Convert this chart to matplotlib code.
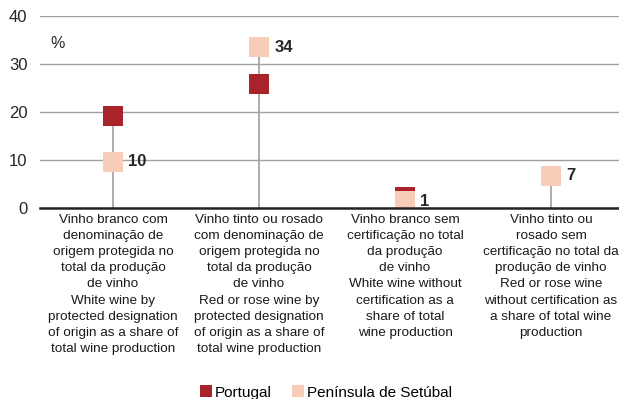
import matplotlib.pyplot as plt
import numpy as np

plt.rcParams['font.family'] = ['Liberation Sans', 'DejaVu Sans']

categories = [
    "Vinho branco com\ndenominação de\norigem protegida no\ntotal da produção\nde vinho\nWhite wine by\nprotected designation\nof origin as a share of\ntotal wine production",
    "Vinho tinto ou rosado\ncom denominação de\norigem protegida no\ntotal da produção\nde vinho\nRed or rose wine by\nprotected designation\nof origin as a share of\ntotal wine production",
    "Vinho branco sem\ncertificação no total\nda produção\nde vinho\nWhite wine without\ncertification as a\nshare of total\nwine production",
    "Vinho tinto ou\nrosado sem\ncertificação no total da\nprodução de vinho\nRed or rose wine\nwithout certification as\na share of total wine\nproduction",
]
portugal = [19.2, 25.8, 2.2, 6.7]
setubal = [9.6, 33.5, 1.4, 6.7]

red = '#A8242A'
pale = '#F7CDB8'

fig = plt.figure(figsize=(6.19, 3.99), dpi=100)
ax = fig.add_axes([40/619, 191/399, 579/619, 192/399])

x = np.arange(len(categories))
hi = np.maximum(portugal, setubal)
ax.vlines(x, 0, hi, color='#A6A6A6', lw=1.3, zorder=2)
ax.plot(x, portugal, 's', ms=13.8, mew=0, color=red, zorder=3, label='Portugal')
ax.plot(x, setubal, 's', ms=13.8, mew=0, color=pale, zorder=4, label='Península de Setúbal')

for xi, v in zip(x, setubal):
    ax.annotate(f"{v:.0f}", (xi, v), xytext=(11, 0), textcoords='offset points',
                ha='left', va='center', fontsize=12, fontweight='bold', color='#262626')

ax.set_ylim(0, 40)
ax.set_xlim(-0.5, 3.466)
ax.set_yticks([0, 10, 20, 30, 40])
ax.yaxis.grid(True, color='#A0A0A0', lw=1)
ax.set_axisbelow(True)
ax.set_xticks(x)
ax.set_xticklabels(categories, fontsize=9.7, color='#1a1a1a')
for t in ax.get_xticklabels():
    t.set_linespacing(1.47)
ax.tick_params(axis='both', length=0)
ax.tick_params(axis='y', labelsize=12, pad=9, labelcolor='#262626')
ax.tick_params(axis='x', pad=4)
for s in ['left', 'right', 'top']:
    ax.spines[s].set_visible(False)
ax.spines['bottom'].set_color('#222222')
ax.spines['bottom'].set_linewidth(1.8)
ax.spines['bottom'].set_zorder(5)

ax.text(0.018, 0.855, '%', transform=ax.transAxes, fontsize=11.5, ha='left', va='center',
        color='#262626')

h = [plt.Line2D([], [], marker='s', ls='', ms=9, mew=0, color=red),
     plt.Line2D([], [], marker='s', ls='', ms=9, mew=0, color=pale)]
fig.legend(h, ['Portugal', 'Península de Setúbal'], loc='center', bbox_to_anchor=(0.525, 0.016),
           ncol=2, frameon=False, fontsize=11, handletextpad=0.1, columnspacing=1.2,
           handlelength=1.0)

fig.savefig('out.png', dpi=100)
